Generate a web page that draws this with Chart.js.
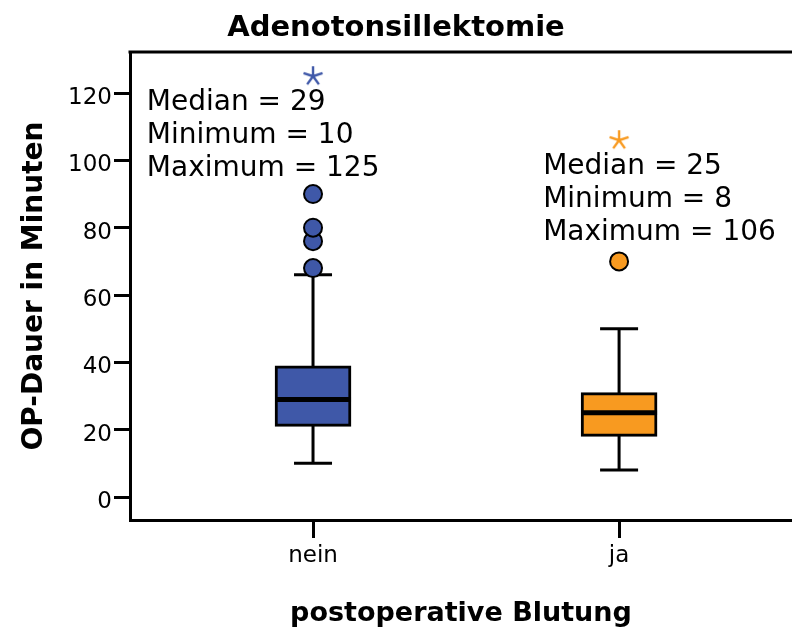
<!DOCTYPE html>
<html lang="de">
<head>
  <meta charset="UTF-8" />
  <title>Adenotonsillektomie</title>
  <script src="https://cdn.jsdelivr.net/npm/chart.js"></script>
  <style>
    body { margin: 0; background: #fff; }
    #wrap { width: 792px; height: 627px; }
  </style>
</head>
<body>
  <div id="wrap"><canvas id="boxChart"></canvas></div>

  <script>
    // values
    const categories = ['nein', 'ja'];
    const colors = ['#3f58a8', '#f89a20'];
    const q1 = [21, 18];
    const q3 = [39, 31];
    const medians = [29, 25];
    const whiskerLow = [10, 8];
    const whiskerHigh = [66, 50];
    const outliers = [[68, 76, 80, 90], [70]];
    const extremes = [125, 106];
    const minima = [10, 8];
    const maxima = [125, 106];
    const yTicks = [0, 20, 40, 60, 80, 100, 120];

    // stat notes: offset from the category (x, value units) and first baseline (y)
    const noteX = [-0.543, -0.248];
    const noteY = [115, 96];

    function asterisk(color) {
      const c = document.createElement('canvas');
      c.width = 24; c.height = 24;
      const g = c.getContext('2d');
      g.strokeStyle = color;
      g.lineWidth = 2.4;
      g.beginPath();
      for (let k = 0; k < 5; k++) {
        const a = -Math.PI / 2 + k * 2 * Math.PI / 5;
        g.moveTo(12, 12);
        g.lineTo(12 + Math.cos(a) * 10, 12 + Math.sin(a) * 10);
      }
      g.stroke();
      return c;
    }

    const frameTop = {
      id: 'frameTop',
      afterDraw(chart) {
        const { ctx, chartArea: a } = chart;
        ctx.save();
        ctx.strokeStyle = '#000';
        ctx.lineWidth = 3;
        ctx.beginPath();
        ctx.moveTo(a.left - 1.5, a.top);
        ctx.lineTo(a.right, a.top);
        ctx.stroke();
        ctx.restore();
      }
    };

    const statNotes = {
      id: 'statNotes',
      afterDatasetsDraw(chart) {
        const { ctx, scales: { x, y } } = chart;
        ctx.save();
        ctx.fillStyle = '#000';
        ctx.font = '28px "DejaVu Sans"';
        ctx.textAlign = 'left';
        ctx.textBaseline = 'alphabetic';
        categories.forEach((c, i) => {
          const px = x.getPixelForValue(i + noteX[i]);
          const py = y.getPixelForValue(noteY[i]);
          const lines = [
            'Median = ' + medians[i],
            'Minimum = ' + minima[i],
            'Maximum = ' + maxima[i]
          ];
          lines.forEach((t, k) => ctx.fillText(t, px, py + k * 33));
        });
        ctx.restore();
      }
    };

    Chart.defaults.font.family = '"DejaVu Sans"';
    Chart.defaults.color = '#000';

    const idx = categories.map((c, i) => i);

    const whiskerData = [];
    idx.forEach(i => {
      whiskerData.push({ x: i, y: whiskerLow[i] }, { x: i, y: whiskerHigh[i] }, { x: i + 0.5, y: null });
    });

    const capData = [];
    idx.forEach(i => {
      capData.push({ x: i, y: whiskerLow[i] }, { x: i, y: whiskerHigh[i] });
    });

    const datasets = [
      {
        type: 'line',
        data: whiskerData,
        borderColor: '#000',
        borderWidth: 3,
        pointRadius: 0,
        spanGaps: false,
        order: 10
      },
      {
        type: 'scatter',
        data: capData,
        pointStyle: 'line',
        pointRadius: 19,
        borderColor: '#000',
        borderWidth: 3,
        order: 9
      },
      {
        type: 'bar',
        data: idx.map(i => ({ x: i, y: [q1[i], q3[i]] })),
        backgroundColor: colors,
        borderColor: '#000',
        borderWidth: 3,
        borderSkipped: false,
        barThickness: 76,
        order: 5
      },
      {
        type: 'scatter',
        data: idx.map(i => ({ x: i, y: medians[i] })),
        pointStyle: 'line',
        pointRadius: 38,
        borderColor: '#000',
        borderWidth: 5,
        order: 2
      }
    ];

    idx.forEach(i => {
      datasets.push({
        type: 'scatter',
        data: outliers[i].map(v => ({ x: i, y: v })),
        pointRadius: 9,
        backgroundColor: colors[i],
        borderColor: '#000',
        borderWidth: 2,
        order: 1
      });
      datasets.push({
        type: 'scatter',
        data: [{ x: i, y: extremes[i] }],
        pointStyle: asterisk(colors[i]),
        order: 1
      });
    });

    new Chart(document.getElementById('boxChart'), {
      type: 'bar',
      data: { datasets },
      options: {
        responsive: true,
        maintainAspectRatio: false,
        animation: false,
        layout: { padding: 0, autoPadding: false },
        plugins: {
          legend: { display: false },
          tooltip: { enabled: false },
          title: {
            display: true,
            text: 'Adenotonsillektomie',
            font: { size: 29, weight: 'bold', lineHeight: 1 },
            padding: { top: 14, bottom: 9 },
            color: '#000'
          }
        },
        scales: {
          x: {
            type: 'linear',
            min: -0.598,
            max: 1.565,
            offset: false,
            afterBuildTicks: s => { s.ticks = idx.map(i => ({ value: i })); },
            afterFit: s => { s.height = 107; s.paddingLeft = 0; s.paddingRight = 0; },
            ticks: {
              callback: v => categories[v],
              font: { size: 23 },
              padding: 4,
              maxRotation: 0
            },
            grid: { offset: false, drawOnChartArea: false, tickLength: 18, tickWidth: 3, tickColor: '#000' },
            border: { display: true, color: '#000', width: 3 },
            title: {
              display: true,
              text: 'postoperative Blutung',
              font: { size: 27, weight: 'bold', lineHeight: 1 },
              padding: { top: 0, bottom: 0 }
            }
          },
          y: {
            min: -6.83,
            max: 132.2,
            afterBuildTicks: s => { s.ticks = yTicks.map(v => ({ value: v })); },
            afterFit: s => { s.width = 130; s.paddingTop = 0; s.paddingBottom = 0; },
            ticks: { font: { size: 23 }, padding: 2, labelOffset: 5 },
            grid: { drawOnChartArea: false, tickLength: 16, tickWidth: 3, tickColor: '#000' },
            border: { display: true, color: '#000', width: 3 },
            title: {
              display: true,
              text: 'OP-Dauer in Minuten',
              font: { size: 28, weight: 'bold', lineHeight: 1 },
              padding: { top: 21, bottom: 0 }
            }
          }
        }
      },
      plugins: [frameTop, statNotes]
    });
  </script>
</body>
</html>
